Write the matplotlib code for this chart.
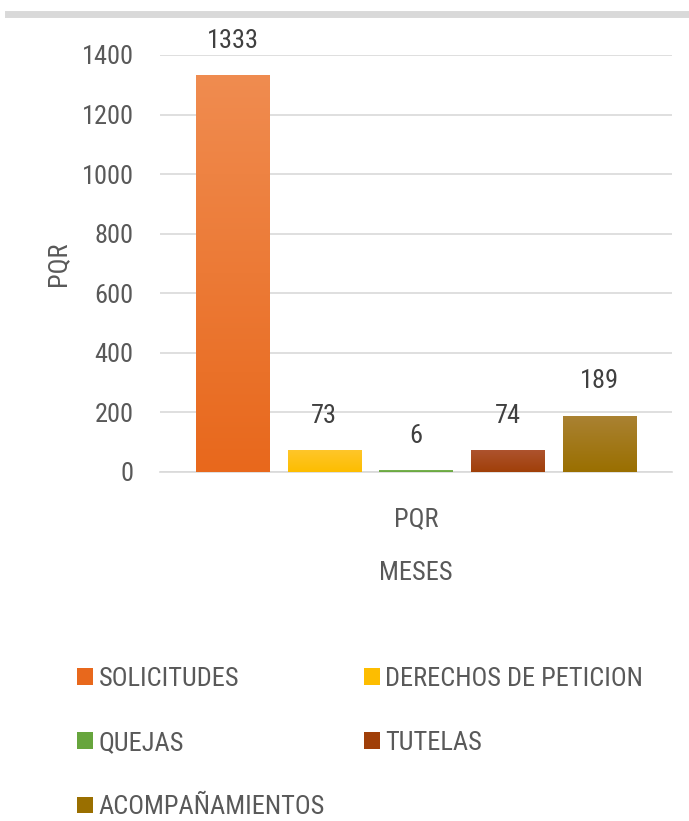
import matplotlib.pyplot as plt
from matplotlib.lines import Line2D
from matplotlib.colors import LinearSegmentedColormap
import numpy as np

plt.rcParams['font.family'] = ['Roboto Condensed', 'DejaVu Sans']

# Datos
series = ['SOLICITUDES', 'DERECHOS DE PETICION', 'QUEJAS', 'TUTELAS', 'ACOMPAÑAMIENTOS']
valores = [1333, 73, 6, 74, 189]
# color arriba / color abajo (degradado de Excel)
color_arriba = ['#F08C50', '#FFC62A', '#7BB555', '#AE5430', '#AA8233']
color_abajo = ['#E8681C', '#FDBD00', '#67A53D', '#A03F08', '#9A6F00']
categoria = 'PQR'

fig = plt.figure(figsize=(6.89, 8.21), dpi=100)
ax = fig.add_axes([0.2322, 0.4251, 0.7432, 0.508])

# linea gris de arriba
fig.add_artist(Line2D([0.012, 1.0], [0.983, 0.983], color='#D9D9D9', lw=5))

paso = 0.179
ancho = 0.1435
offsets = (np.arange(len(series)) - 2) * paso
grad = np.linspace(0, 1, 256).reshape(-1, 1)
for off, v, c1, c2, s in zip(offsets, valores, color_arriba, color_abajo, series):
    barra = ax.bar(off, v, width=ancho, color=c2, label=s, zorder=3)[0]
    cmap = LinearSegmentedColormap.from_list('g', [c1, c2])
    img = ax.imshow(grad, cmap=cmap, aspect='auto', zorder=4,
                    extent=[barra.get_x(), barra.get_x() + barra.get_width(), 0, v])
    img.set_clip_path(barra)
    ax.annotate(str(v), (off, v), xytext=(0, 16), textcoords='offset points',
                ha='center', va='bottom', fontsize=19, color='#404040')

ax.set_xlim(-0.5, 0.5)
ax.set_ylim(0, 1400)
ax.set_yticks(range(0, 1401, 200))
ax.set_xticks([0])
ax.set_xticklabels([categoria])
ax.grid(axis='y', color='#D9D9D9', lw=1.2, zorder=0)
for s in ['top', 'right', 'left']:
    ax.spines[s].set_visible(False)
ax.spines['bottom'].set_color('#D9D9D9')
ax.spines['bottom'].set_linewidth(1.2)
ax.tick_params(length=0, labelsize=19, colors='#595959', pad=19)
ax.tick_params(axis='x', pad=25)
ax.set_ylabel('PQR', fontsize=19, color='#595959', labelpad=8)
ax.set_xlabel('MESES', fontsize=19, color='#595959', labelpad=22)

# leyenda en dos columnas (orden por filas)
h, l = ax.get_legend_handles_labels()
orden = [0, 2, 4, 1, 3]
fig.legend([h[i] for i in orden], [l[i] for i in orden], ncol=2,
           loc='upper left', bbox_to_anchor=(0.1123, 0.188), frameon=False,
           borderpad=0, borderaxespad=0,
           fontsize=19, labelcolor='#595959', handlelength=0.6, handleheight=0.6,
           handletextpad=0.2, labelspacing=1.53, columnspacing=1.48)

plt.savefig('out.png', dpi=100)
